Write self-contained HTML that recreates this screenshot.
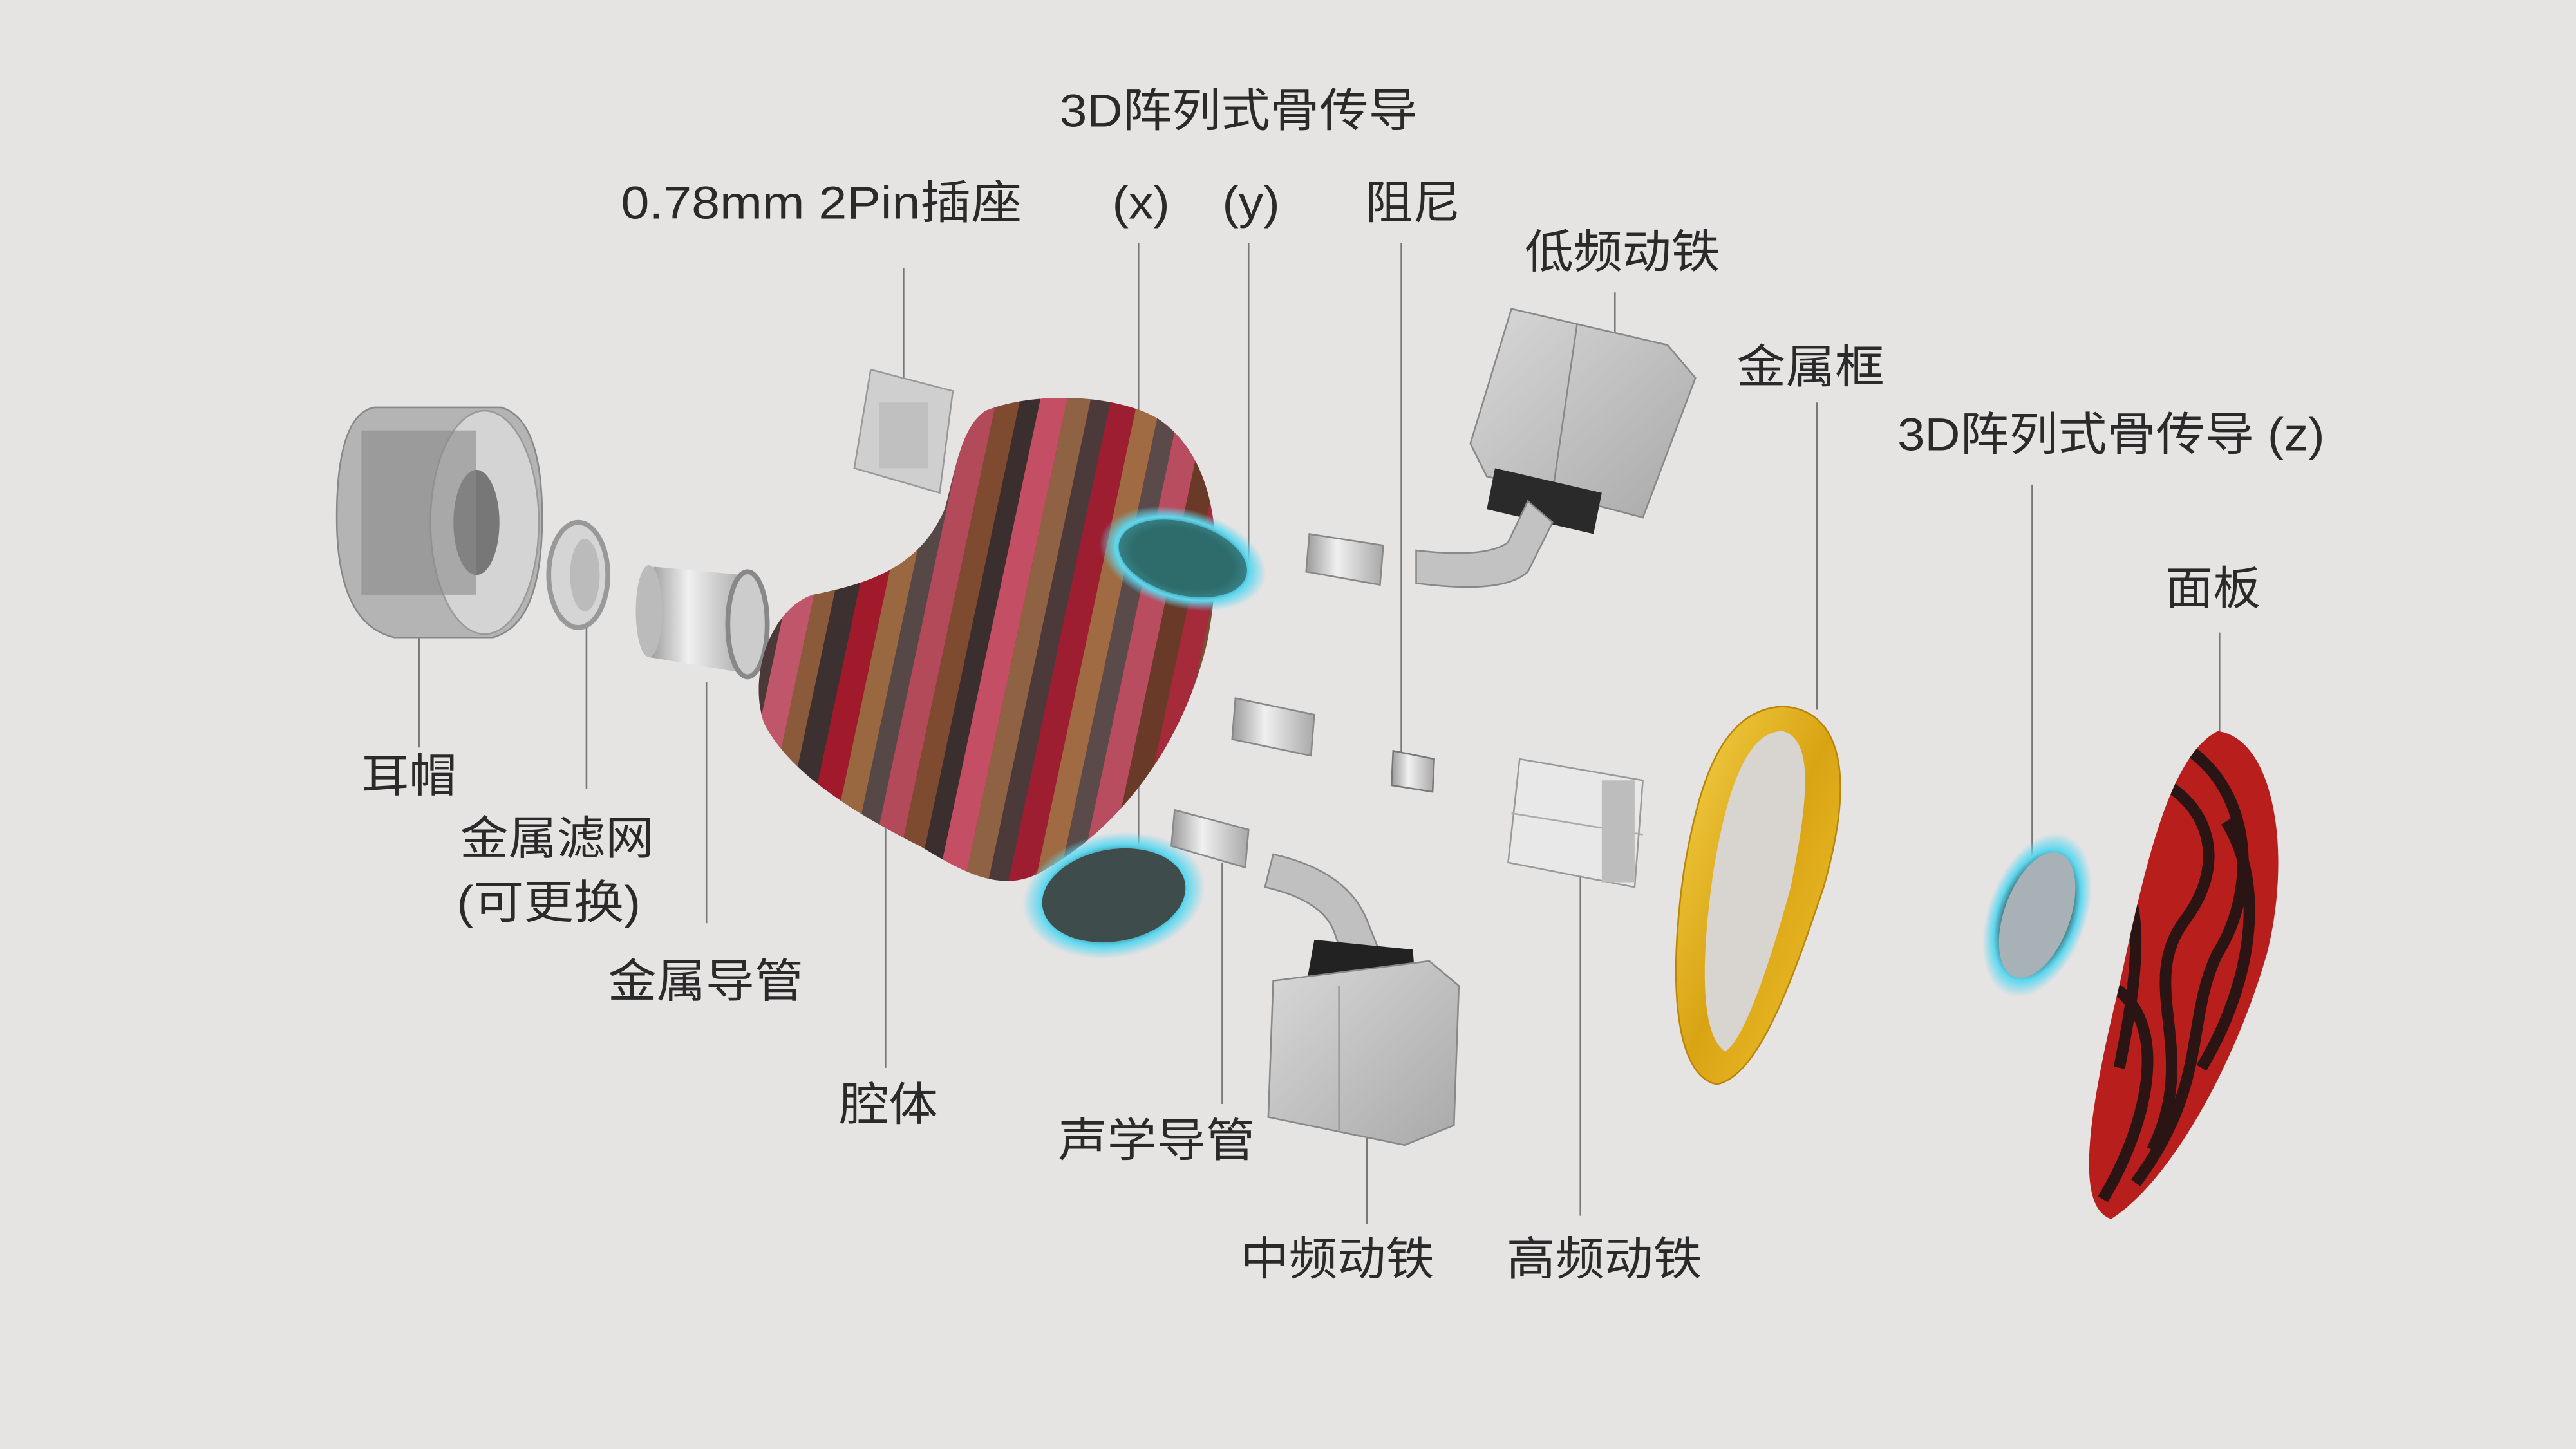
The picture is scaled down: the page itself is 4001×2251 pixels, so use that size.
<!DOCTYPE html>
<html><head><meta charset="utf-8"><style>
html,body{margin:0;padding:0;background:#e6e3e3;}
svg{display:block;}
text{font-family:"Liberation Sans","Noto Sans CJK SC",sans-serif;fill:#2a2a2a;font-size:28px;}
</style></head><body>
<svg width="4001" height="2251" viewBox="0 0 1568 882" preserveAspectRatio="none" xmlns="http://www.w3.org/2000/svg">
<defs>
<linearGradient id="met" x1="0" y1="0" x2="1" y2="0"><stop offset="0" stop-color="#9a9a9a"/><stop offset=".4" stop-color="#f0f0f0"/><stop offset="1" stop-color="#a8a8a8"/></linearGradient>
<linearGradient id="box" x1="0" y1="0" x2="1" y2="1"><stop offset="0" stop-color="#d8d8d8"/><stop offset="1" stop-color="#a9a9a9"/></linearGradient>
<linearGradient id="gold" x1="0" y1="0" x2="1" y2="1"><stop offset="0" stop-color="#f5d24a"/><stop offset=".5" stop-color="#d9a414"/><stop offset="1" stop-color="#f1c430"/></linearGradient>
<radialGradient id="ring" cx=".5" cy=".5" r=".5"><stop offset=".6" stop-color="#2f5a5a"/><stop offset=".8" stop-color="#5fd8f0"/><stop offset="1" stop-color="#5fd8f0" stop-opacity="0"/></radialGradient>
<clipPath id="bodyc"><path d="M600,250 C630,238 680,240 705,255 C735,275 748,320 735,390 C720,455 680,505 635,530 C610,545 585,530 560,515 C520,495 480,470 465,440 C455,410 470,370 495,362 C530,355 560,345 575,310 C582,285 585,260 600,250Z"/></clipPath>
<clipPath id="facec"><path d="M1350,445 C1385,450 1395,520 1380,580 C1360,650 1320,720 1285,742 C1265,735 1268,690 1290,600 C1305,530 1320,460 1350,445Z"/></clipPath>
</defs>
<rect width="1568" height="882" fill="#e6e3e3"/>

<g stroke="#777" stroke-width="1" fill="none">
<line x1="550" y1="163" x2="550" y2="250"/>
<line x1="693" y1="148" x2="693" y2="572"/>
<line x1="760" y1="148" x2="760" y2="350"/>
<line x1="853" y1="148" x2="853" y2="462"/>
<line x1="983" y1="178" x2="983" y2="245"/>
<line x1="1106" y1="245" x2="1106" y2="432"/>
<line x1="1237" y1="295" x2="1237" y2="560"/>
<line x1="1351" y1="385" x2="1351" y2="450"/>
<line x1="255" y1="350" x2="255" y2="455"/>
<line x1="357" y1="378" x2="357" y2="480"/>
<line x1="430" y1="415" x2="430" y2="562"/>
<line x1="539" y1="470" x2="539" y2="650"/>
<line x1="744" y1="525" x2="744" y2="672"/>
<line x1="832" y1="680" x2="832" y2="745"/>
<line x1="962" y1="515" x2="962" y2="740"/>
</g>

<path d="M228,248 L305,248 Q330,255 330,315 Q330,380 300,388 L240,388 Q205,380 205,315 Q205,252 228,248Z" fill="#b4b4b4" stroke="#888"/>
<ellipse cx="295" cy="318" rx="33" ry="68" fill="#d4d4d4" stroke="#9a9a9a"/>
<ellipse cx="290" cy="318" rx="14" ry="32" fill="#777"/>
<rect x="220" y="262" width="70" height="100" fill="#8a8a8a" opacity=".6"/>
<ellipse cx="352" cy="350" rx="18" ry="32" fill="#d5d5d5" stroke="#999" stroke-width="3"/>
<ellipse cx="356" cy="350" rx="9" ry="22" fill="#bbb"/>
<path d="M398,345 L452,350 L455,410 L395,400Z" fill="url(#met)"/>
<ellipse cx="455" cy="380" rx="12" ry="32" fill="#ccc" stroke="#888" stroke-width="3"/>
<ellipse cx="395" cy="372" rx="8" ry="28" fill="#bbb"/>
<path d="M530,225 L580,238 L572,300 L520,285Z" fill="#cfcfcf" stroke="#999"/>
<rect x="535" y="245" width="30" height="40" fill="#b9b9b9" opacity=".7"/>

<g clip-path="url(#bodyc)">
<rect x="440" y="230" width="320" height="320" fill="#6e2a2e"/>
<g transform="rotate(12 600 390)">
<rect x="450" y="200" width="14" height="400" fill="#9b3a46"/>
<rect x="464" y="200" width="12" height="400" fill="#4b3838"/>
<rect x="476" y="200" width="16" height="400" fill="#c0566a"/>
<rect x="492" y="200" width="12" height="400" fill="#8a5a3a"/>
<rect x="504" y="200" width="14" height="400" fill="#3d3030"/>
<rect x="518" y="200" width="16" height="400" fill="#a01a2c"/>
<rect x="534" y="200" width="14" height="400" fill="#9a6840"/>
<rect x="548" y="200" width="12" height="400" fill="#574848"/>
<rect x="560" y="200" width="16" height="400" fill="#b24a5a"/>
<rect x="576" y="200" width="14" height="400" fill="#7e4a30"/>
<rect x="590" y="200" width="12" height="400" fill="#3a2e2e"/>
<rect x="602" y="200" width="16" height="400" fill="#c44f64"/>
<rect x="618" y="200" width="14" height="400" fill="#8f6244"/>
<rect x="632" y="200" width="12" height="400" fill="#4c3a3a"/>
<rect x="644" y="200" width="16" height="400" fill="#9d1e30"/>
<rect x="660" y="200" width="14" height="400" fill="#a06a42"/>
<rect x="674" y="200" width="12" height="400" fill="#5a4a4a"/>
<rect x="686" y="200" width="16" height="400" fill="#b84d60"/>
<rect x="702" y="200" width="14" height="400" fill="#6a3a28"/>
<rect x="716" y="200" width="14" height="400" fill="#a52a3a"/>
<rect x="730" y="200" width="20" height="400" fill="#7a5034"/>
</g>
</g>
<ellipse cx="720" cy="340" rx="52" ry="30" fill="url(#ring)" transform="rotate(15 720 340)"/>
<ellipse cx="720" cy="340" rx="40" ry="22" fill="#2e7070" opacity=".8" transform="rotate(15 720 340)"/>
<ellipse cx="678" cy="545" rx="56" ry="38" fill="url(#ring)" transform="rotate(-10 678 545)"/>
<ellipse cx="678" cy="545" rx="44" ry="28" fill="#3e4c4c" transform="rotate(-10 678 545)"/>
<ellipse cx="1240" cy="557" rx="30" ry="52" fill="url(#ring)" transform="rotate(20 1240 557)"/>
<ellipse cx="1240" cy="557" rx="20" ry="40" fill="#a8b2b6" transform="rotate(20 1240 557)"/>

<path d="M797,325 L842,332 L840,356 L795,348Z" fill="url(#met)" stroke="#888"/>
<path d="M752,425 L800,435 L798,460 L750,450Z" fill="url(#met)" stroke="#888"/>
<path d="M848,457 L873,462 L872,482 L847,478Z" fill="url(#met)" stroke="#777"/>
<path d="M715,493 L760,505 L758,528 L713,515Z" fill="url(#met)" stroke="#888"/>

<path d="M920,188 L1015,210 L1032,230 L1000,315 L905,290 L895,270Z" fill="url(#box)" stroke="#888"/>
<line x1="960" y1="197" x2="945" y2="300" stroke="#888"/>
<path d="M910,285 L975,300 L970,325 L905,310Z" fill="#2a2a2a"/>
<path d="M930,305 L945,318 L930,348 Q915,362 862,355 L862,335 Q905,340 918,330 Z" fill="#c2c2c2" stroke="#888"/>
<path d="M775,520 Q820,530 832,560 L842,585 L820,590 L812,567 Q805,548 770,540Z" fill="#c0c0c0" stroke="#888"/>
<path d="M800,572 L860,578 L862,605 L795,600Z" fill="#222"/>
<path d="M775,597 L870,585 L888,600 L885,685 L855,697 L772,680Z" fill="url(#box)" stroke="#888"/>
<line x1="815" y1="600" x2="815" y2="688" stroke="#999"/>
<path d="M925,462 L1000,475 L995,540 L918,525Z" fill="#e8e8e8" stroke="#999"/>
<line x1="920" y1="495" x2="1000" y2="508" stroke="#aaa"/>
<rect x="975" y="475" width="20" height="62" fill="#bdbdbd"/>

<path d="M1085,430 C1120,432 1130,470 1110,540 C1090,600 1070,655 1045,660 C1020,655 1015,600 1025,530 C1035,470 1050,432 1085,430Z" fill="url(#gold)" stroke="#b8860b"/>
<path d="M1085,445 C1105,450 1100,490 1090,540 C1075,595 1060,635 1050,640 C1035,630 1035,585 1043,530 C1052,475 1065,445 1085,445Z" fill="#d8d4cf"/>

<g clip-path="url(#facec)">
<rect x="1260" y="440" width="140" height="310" fill="#b81e1c"/>
<g fill="none" stroke="#2a1414" stroke-width="7">
<path d="M1300,470 C1340,480 1360,520 1330,560 C1300,600 1340,640 1310,700"/>
<path d="M1330,455 C1370,480 1375,540 1350,580 C1330,620 1345,660 1300,720"/>
<path d="M1280,520 C1310,540 1300,600 1290,650"/>
<path d="M1355,500 C1380,540 1370,600 1340,650"/>
<path d="M1285,600 C1320,620 1310,680 1280,730"/>
</g>
</g>

<text x="645" y="77" textLength="218" lengthAdjust="spacingAndGlyphs">3D阵列式骨传导</text>
<text x="378" y="133" textLength="244" lengthAdjust="spacingAndGlyphs">0.78mm 2Pin插座</text>
<text x="677" y="133" textLength="35" lengthAdjust="spacingAndGlyphs">(x)</text>
<text x="744" y="133" textLength="35" lengthAdjust="spacingAndGlyphs">(y)</text>
<text x="831" y="133" textLength="58" lengthAdjust="spacingAndGlyphs">阻尼</text>
<text x="928" y="163" textLength="119" lengthAdjust="spacingAndGlyphs">低频动铁</text>
<text x="1057" y="233" textLength="90" lengthAdjust="spacingAndGlyphs">金属框</text>
<text x="1155" y="274" textLength="260" lengthAdjust="spacingAndGlyphs">3D阵列式骨传导 (z)</text>
<text x="1318" y="368" textLength="58" lengthAdjust="spacingAndGlyphs">面板</text>
<text x="220" y="482" textLength="58" lengthAdjust="spacingAndGlyphs">耳帽</text>
<text x="280" y="520" textLength="118" lengthAdjust="spacingAndGlyphs">金属滤网</text>
<text x="278" y="559" textLength="112" lengthAdjust="spacingAndGlyphs">(可更换)</text>
<text x="370" y="607" textLength="119" lengthAdjust="spacingAndGlyphs">金属导管</text>
<text x="511" y="682" textLength="60" lengthAdjust="spacingAndGlyphs">腔体</text>
<text x="644" y="704" textLength="120" lengthAdjust="spacingAndGlyphs">声学导管</text>
<text x="755" y="776" textLength="118" lengthAdjust="spacingAndGlyphs">中频动铁</text>
<text x="917" y="776" textLength="119" lengthAdjust="spacingAndGlyphs">高频动铁</text>
</svg>
</body></html>
